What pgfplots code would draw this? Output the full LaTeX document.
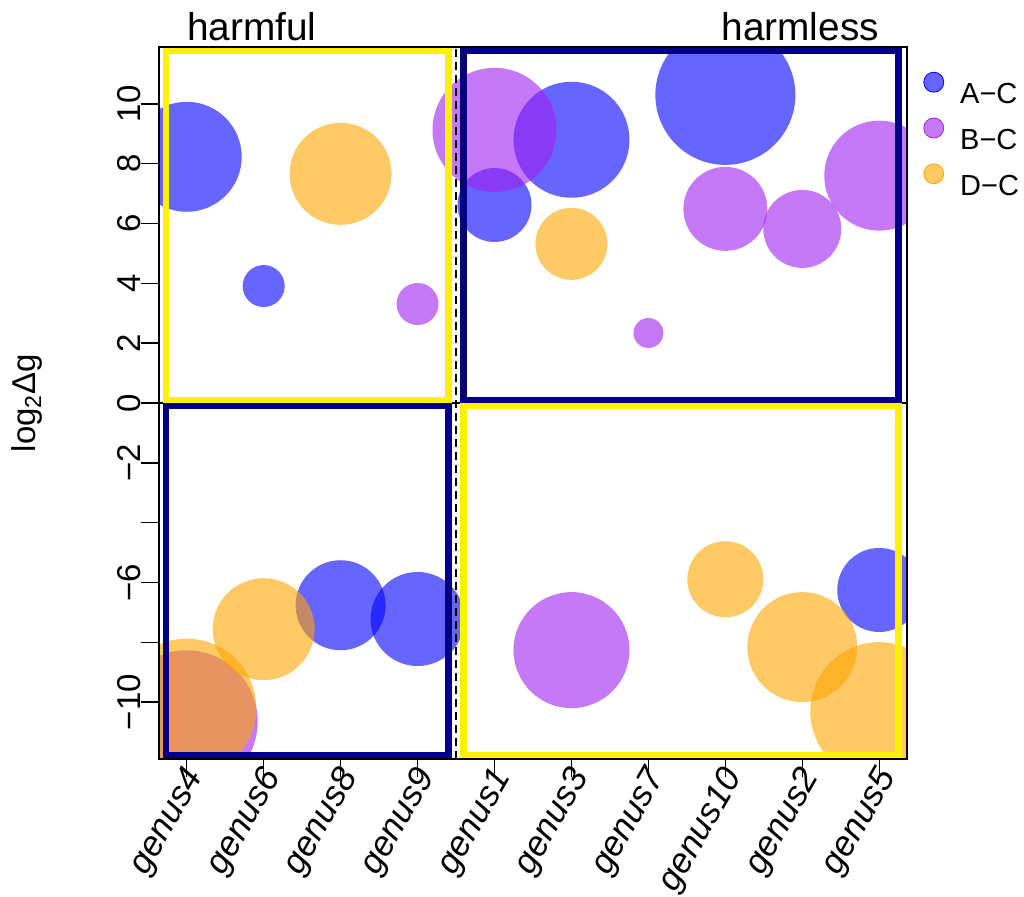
\documentclass[border=0pt]{standalone}
\usepackage{fontspec}
\setmainfont{Liberation Sans}
\usepackage{pgfplots}
\usepackage{pgfplotstable}
\pgfplotsset{compat=1.18}

\definecolor{cA}{RGB}{0,0,255}
\definecolor{cB}{RGB}{160,32,240}
\definecolor{cD}{RGB}{255,165,0}
\definecolor{navyr}{RGB}{0,0,128}

% x = position of genus on the axis, y = log2 dg, r = bubble radius (pt)
\pgfplotstableread{
x  y      r
1  8.23   27.5
2  3.91   10.5
5  6.62   18.5
6  8.80   29
8  10.30  35
3  -6.76  22.5
4  -7.22  23.5
10 -6.25  21
}\tabA
\pgfplotstableread{
x  y      r
4  3.31   10.5
5  9.13   31
7  2.34   7.5
8  6.49   21
9  5.82   19.5
10 7.60   27.5
6  -8.26  29
1  -10.64 35.5
}\tabB
\pgfplotstableread{
x  y      r
3  7.66   25.5
6  5.32   18
2  -7.56  25.5
1  -10.20 34.75
8  -5.89  19
9  -8.16  27.5
10 -10.30 34.5
}\tabD

\pgfplotsset{
  bubble/.style={scatter, only marks, mark=*,
    scatter/use mapped color={draw opacity=0, fill=#1, fill opacity=0.6},
    visualization depends on={\thisrow{r}\as\rad},
    scatter/@pre marker code/.append style={/tikz/mark size=\rad}},
  dotlegend/.style={legend image code/.code={\fill[#1, fill opacity=0.6] (5pt,5.2pt) circle (5pt);}},
}

\begin{document}
\begin{tikzpicture}
\path[use as bounding box] (-79.5pt,-68.5pt) rectangle (432.5pt,379.5pt);
\begin{axis}[
  at={(0pt,0pt)}, anchor=south west,
  scale only axis, width=374pt, height=356pt,
  xmin=0.64, xmax=10.36, ymin=-11.9, ymax=11.9,
  clip mode=individual, clip marker paths=true,
  axis on top,
  axis line style={line width=0.75pt},
  tick style={line width=0.75pt, black},
  tick align=outside, major tick length=9pt,
  xtick pos=bottom, ytick pos=left,
  xtick={1,...,10},
  xticklabels={genus4,genus6,genus8,genus9,genus1,genus3,genus7,genus10,genus2,genus5},
  xticklabel style={xshift=-2pt, yshift=6.5pt, rotate=60, anchor=north east, inner sep=0pt,
    font=\fontsize{17.5}{21}\selectfont\itshape},
  ytick={-10,-8,...,10},
  yticklabels={−10,,−6,,−2,0,2,4,6,8,10},
  yticklabel style={rotate=90, anchor=south, inner sep=0pt,
    font=\fontsize{16.5}{20}\selectfont},
  legend cell align=left,
  legend style={draw=none, fill=none, inner sep=0pt,
    at={(rel axis cs:1,1)}, anchor=north west, xshift=8pt, yshift=-12.2pt,
    row sep=7pt,
    nodes={inner sep=0pt, text height=11pt, text depth=0pt,
      font=\fontsize{14.5}{17}\selectfont},
    /tikz/every odd column/.append style={column sep=8pt}},
]
\addplot[bubble=cA, forget plot] table[x=x, y=y] {\tabA};
\addplot[bubble=cB, forget plot] table[x=x, y=y] {\tabB};
\addplot[bubble=cD, forget plot] table[x=x, y=y] {\tabD};

\draw[line width=0.75pt] (axis cs:0.64,0) -- (axis cs:10.36,0);
\draw[line width=0.75pt, dash pattern=on 4pt off 2.5pt] (axis cs:4.5,-11.9) -- (axis cs:4.5,11.9);

\draw[yellow, line width=3.25pt] (axis cs:0.73,0.1) rectangle (axis cs:4.4,11.77);
\draw[navyr, line width=3.25pt] (axis cs:4.6,0.1) rectangle (axis cs:10.25,11.77);
\draw[navyr, line width=3.25pt] (axis cs:0.73,-11.77) rectangle (axis cs:4.4,-0.1);
\draw[yellow, line width=3.25pt] (axis cs:4.6,-11.77) rectangle (axis cs:10.25,-0.1);

\node[anchor=base west, inner sep=0pt, font=\fontsize{19.4}{23}\selectfont] at (axis cs:1,12.13) {harmful};
\node[anchor=base east, inner sep=0pt, font=\fontsize{19.4}{23}\selectfont] at (axis cs:10,12.13) {harmless};
\node[rotate=90, anchor=base, inner sep=0pt, font=\fontsize{16.5}{20}\selectfont]
  at ([xshift=-61.5pt]rel axis cs:0,0.5) {log\textsubscript{2}Δg};

\addlegendimage{dotlegend=cA}\addlegendentry{A−C}
\addlegendimage{dotlegend=cB}\addlegendentry{B−C}
\addlegendimage{dotlegend=cD}\addlegendentry{D−C}
\end{axis}
\end{tikzpicture}
\end{document}
